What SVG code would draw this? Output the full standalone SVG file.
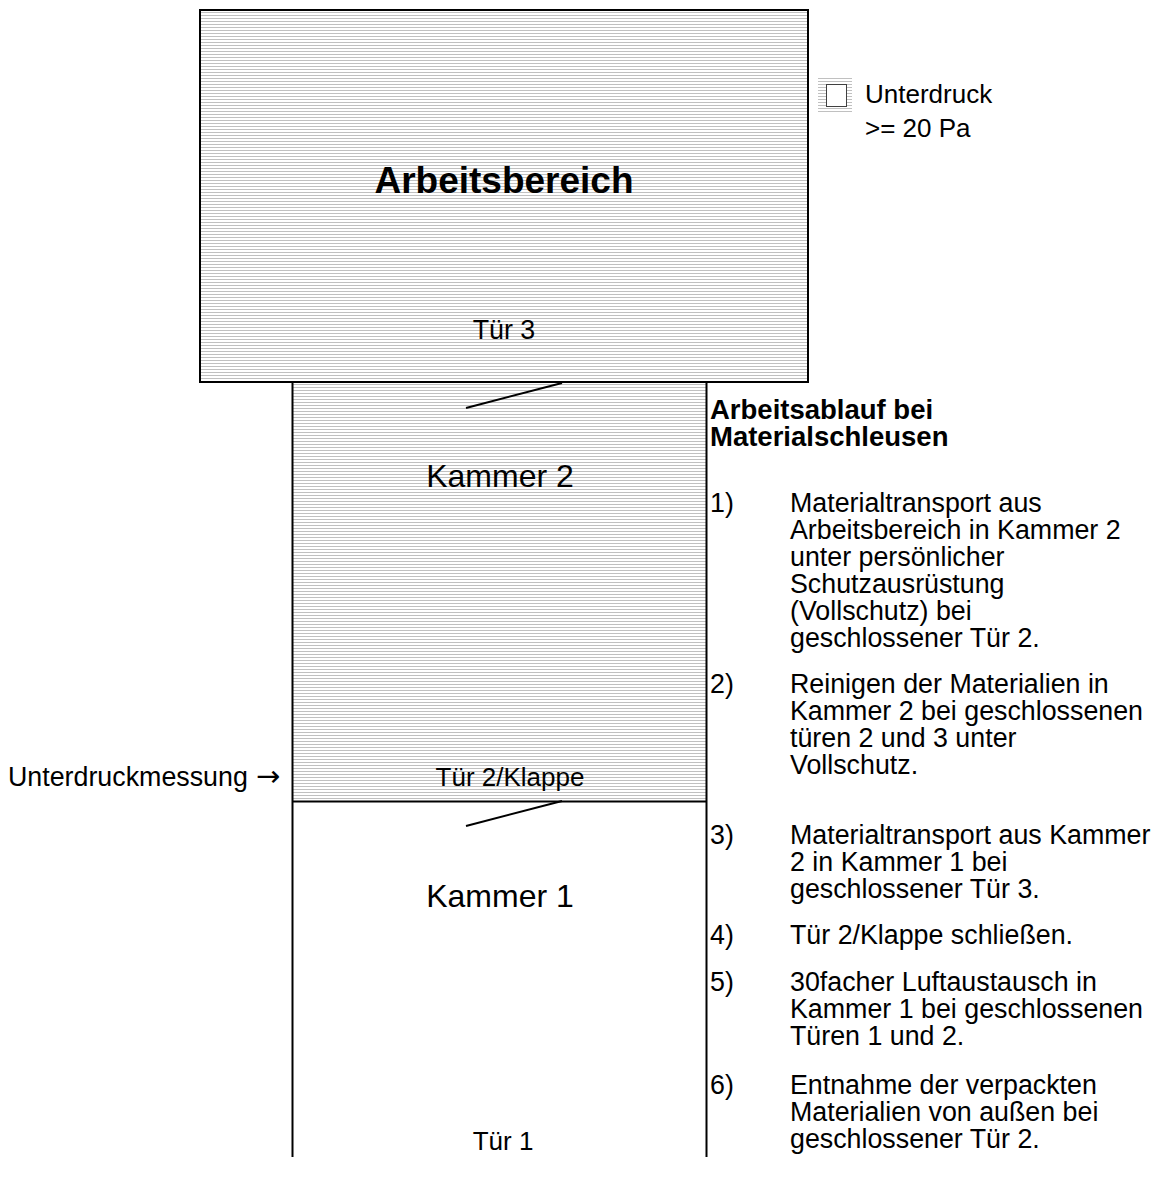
<svg xmlns="http://www.w3.org/2000/svg" width="1158" height="1187" viewBox="0 0 1158 1187">
<defs>
<pattern id="hatch" patternUnits="userSpaceOnUse" x="0" y="0" width="4" height="3">
<rect x="0" y="0" width="4" height="3" fill="#ffffff"/>
<rect x="0" y="0" width="4" height="1" fill="#c0c0c0"/>
</pattern>
</defs>
<style>
text { font-family: "Liberation Sans", Arial, sans-serif; fill: #000; }
.t26 { font-size: 26px; }
.t27 { font-size: 26.8px; }
.t32 { font-size: 32px; }
.b37 { font-size: 37px; font-weight: bold; }
.b27 { font-size: 27.5px; font-weight: bold; }
.wall { stroke: #000; stroke-width: 2; fill: none; }
.room { stroke: #000; stroke-width: 2; fill: url(#hatch); }
.door { stroke: #000; stroke-width: 2; fill: none; }
.arrow { font-family: "DejaVu Sans", sans-serif; }
</style>
<rect width="1158" height="1187" fill="#fff"/>

<g id="arbeitsbereich">
<rect x="200" y="10" width="608" height="372" class="room"/>
<text class="b37" x="504" y="193" text-anchor="middle">Arbeitsbereich</text>
<text class="t27" x="504" y="339" text-anchor="middle">Tür 3</text>
</g>

<g id="kammer2">
<rect x="293" y="383" width="413" height="418" fill="url(#hatch)"/>
<text class="t32" x="500" y="487" text-anchor="middle">Kammer 2</text>
<text class="t26" x="510" y="786" text-anchor="middle">Tür 2/Klappe</text>
</g>

<g id="kammer1">
<text class="t32" x="500" y="907" text-anchor="middle">Kammer 1</text>
<text class="t26" x="503" y="1150" text-anchor="middle">Tür 1</text>
</g>

<g id="walls">
<line class="wall" x1="292.5" y1="382" x2="292.5" y2="1157"/>
<line class="wall" x1="706.5" y1="382" x2="706.5" y2="1157"/>
<line class="wall" x1="292" y1="801.5" x2="707" y2="801.5"/>
</g>

<g id="connectors">
<line class="door" x1="466" y1="408" x2="562" y2="383"/>
<line class="door" x1="466" y1="826" x2="562" y2="801"/>
</g>

<g id="legende">
<rect x="818" y="78" width="34" height="34" fill="url(#hatch)"/>
<rect x="826.5" y="84.5" width="20" height="22" fill="#fff" stroke="#404040" stroke-width="1"/>
<text class="t26" x="865" y="103">Unterdruck</text>
<text class="t26" x="865" y="137">&gt;= 20 Pa</text>
</g>

<g id="messung">
<text class="t27" x="8" y="786">Unterdruckmessung</text>
<text class="arrow" x="256" y="786" font-size="29">→</text>
</g>

<g id="ablauf">
<text class="b27" x="710" y="419">Arbeitsablauf bei</text>
<text class="b27" x="710" y="446">Materialschleusen</text>
<text class="t27" x="710" y="512">1)</text>
<text class="t27" x="790" y="512">Materialtransport aus</text>
<text class="t27" x="790" y="539">Arbeitsbereich in Kammer 2</text>
<text class="t27" x="790" y="566">unter persönlicher</text>
<text class="t27" x="790" y="593">Schutzausrüstung</text>
<text class="t27" x="790" y="620">(Vollschutz) bei</text>
<text class="t27" x="790" y="647">geschlossener Tür 2.</text>
<text class="t27" x="710" y="693">2)</text>
<text class="t27" x="790" y="693">Reinigen der Materialien in</text>
<text class="t27" x="790" y="720">Kammer 2 bei geschlossenen</text>
<text class="t27" x="790" y="747">türen 2 und 3 unter</text>
<text class="t27" x="790" y="774">Vollschutz.</text>
<text class="t27" x="710" y="844">3)</text>
<text class="t27" x="790" y="844">Materialtransport aus Kammer</text>
<text class="t27" x="790" y="871">2 in Kammer 1 bei</text>
<text class="t27" x="790" y="898">geschlossener Tür 3.</text>
<text class="t27" x="710" y="944">4)</text>
<text class="t27" x="790" y="944">Tür 2/Klappe schließen.</text>
<text class="t27" x="710" y="991">5)</text>
<text class="t27" x="790" y="991">30facher Luftaustausch in</text>
<text class="t27" x="790" y="1018">Kammer 1 bei geschlossenen</text>
<text class="t27" x="790" y="1045">Türen 1 und 2.</text>
<text class="t27" x="710" y="1094">6)</text>
<text class="t27" x="790" y="1094">Entnahme der verpackten</text>
<text class="t27" x="790" y="1121">Materialien von außen bei</text>
<text class="t27" x="790" y="1148">geschlossener Tür 2.</text>
</g>
</svg>
